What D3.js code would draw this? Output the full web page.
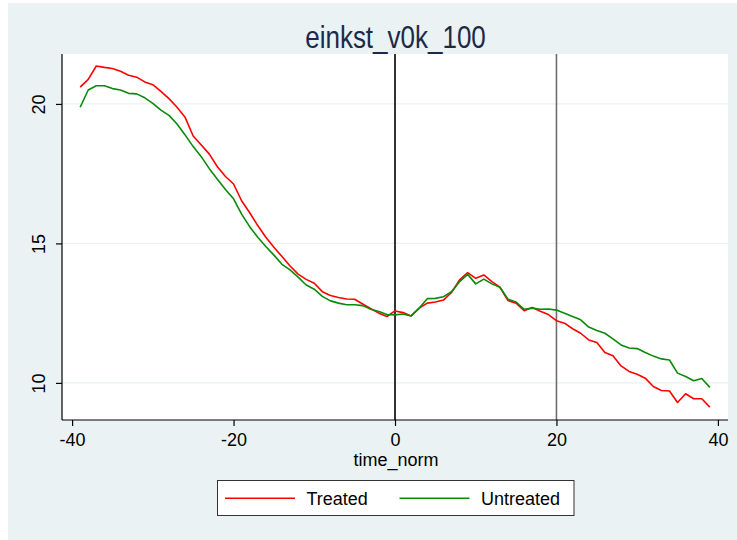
<!DOCTYPE html>
<html><head><meta charset="utf-8">
<script src="https://cdn.jsdelivr.net/npm/d3@7"></script>
<style>body{margin:0;background:#fff}svg{display:block}text{font-family:"Liberation Sans",Arial,sans-serif}</style>
</head><body>
<svg id="c" width="737" height="540"></svg>
<script>
const title = "einkst_v0k_100";
const xLabel = "time_norm";
const seriesNames = ["Treated", "Untreated"];
const timeNorm = d3.range(-39, 40);
const treated = [20.6,20.88,21.36,21.31,21.27,21.17,21.03,20.96,20.79,20.69,20.45,20.19,19.88,19.52,18.85,18.53,18.2,17.75,17.4,17.13,
  16.53,16.1,15.64,15.22,14.86,14.53,14.19,13.9,13.71,13.57,13.27,13.13,13.06,13.01,13.0,12.83,12.66,12.5,12.38,
  12.58,12.52,12.4,12.68,12.86,12.9,12.97,13.24,13.69,13.95,13.75,13.87,13.63,13.43,12.95,12.86,12.59,12.7,12.57,12.45,
  12.23,12.14,11.94,11.78,11.54,11.45,11.09,10.97,10.61,10.41,10.31,10.17,9.87,9.73,9.71,9.3,9.61,9.43,9.43,9.13];
const untreated = [19.88,20.5,20.65,20.65,20.55,20.5,20.38,20.36,20.22,20.02,19.78,19.59,19.28,18.89,18.47,18.11,17.68,17.3,16.93,16.6,
  16.05,15.6,15.22,14.89,14.58,14.25,14.05,13.79,13.51,13.36,13.1,12.94,12.86,12.8,12.8,12.77,12.64,12.56,12.45,
  12.44,12.47,12.4,12.68,13.02,13.03,13.09,13.27,13.63,13.89,13.55,13.72,13.55,13.43,13.0,12.9,12.64,12.68,12.64,12.65,
  12.61,12.5,12.38,12.26,12.0,11.88,11.78,11.58,11.36,11.25,11.23,11.09,10.96,10.86,10.82,10.35,10.23,10.08,10.16,9.84];
const xTicks = [-40, -20, 0, 20, 40];
const yTicks = [10, 15, 20];
const refLines = [0, 20];

const svg = d3.select("#c");
const bg = "#eaf2f3";
svg.append("rect").attr("x",8).attr("y",3).attr("width",729).attr("height",537).attr("fill",bg);

const L = 62, R = 728, T = 54, B = 420;
svg.append("rect").attr("x",L).attr("y",T).attr("width",R-L).attr("height",B-T).attr("fill","#fff");

const x = d3.scaleLinear().domain([-41.25, 41.25]).range([L, R]);
const y = d3.scaleLinear().domain([8.67, 21.79]).range([B, T]);

svg.append("g").selectAll("line").data(yTicks).join("line")
  .attr("x1",L).attr("x2",R).attr("y1",d=>y(d)).attr("y2",d=>y(d))
  .attr("stroke",bg).attr("stroke-width",1.2);

svg.append("g").selectAll("line").data(refLines).join("line")
  .attr("x1",d=>x(d)).attr("x2",d=>x(d)).attr("y1",T).attr("y2",B)
  .attr("stroke",(d,i)=>i===0?"#000":"#6e6e6e").attr("stroke-width",1.6);

const line = d3.line().x((d,i)=>x(timeNorm[i])).y(d=>y(d));
svg.append("path").datum(treated).attr("d",line).attr("fill","none").attr("stroke","#ff0000").attr("stroke-width",1.6).attr("stroke-linejoin","round");
svg.append("path").datum(untreated).attr("d",line).attr("fill","none").attr("stroke","#0a8a0a").attr("stroke-width",1.6).attr("stroke-linejoin","round");

const fmt = d => String(d);
const xAxis = svg.append("g").attr("transform",`translate(0,${B})`)
  .call(d3.axisBottom(x).tickValues(xTicks).tickSize(6).tickFormat(fmt));
const yAxis = svg.append("g").attr("transform",`translate(${L},0)`)
  .call(d3.axisLeft(y).tickValues(yTicks).tickSize(6).tickFormat(fmt));
[xAxis,yAxis].forEach(a=>{
  a.select(".domain").attr("stroke","#000").attr("stroke-width",1.2);
  a.selectAll(".tick line").attr("stroke","#000").attr("stroke-width",1.2);
  a.selectAll("text").attr("fill","#000").style("font-size","18px");
});
xAxis.select(".domain").attr("d",`M${L},0H${R}`);
yAxis.select(".domain").attr("d",`M0,${T}V${B}`);
xAxis.selectAll(".tick text").attr("y",0).attr("dy",0).attr("transform","translate(0,25.5) scale(1,1.05)");
yAxis.selectAll(".tick text").attr("x",0).attr("dy",0).attr("text-anchor","middle")
  .attr("transform","translate(-17,0) rotate(-90) scale(1,1.05)");

svg.append("text").attr("text-anchor","middle")
  .attr("transform","translate(395.5,48.3) scale(1,1.23)")
  .style("font-size","26px").attr("fill","#1c2a4a").text(title);
svg.append("text").attr("text-anchor","middle")
  .attr("transform","translate(396,466) scale(1,1.05)")
  .style("font-size","18px").attr("fill","#000").text(xLabel);

const lg = svg.append("g");
lg.append("rect").attr("x",217.5).attr("y",480.5).attr("width",356.5).attr("height",35)
  .attr("fill","#fff").attr("stroke","#333").attr("stroke-width",1);
const legendItems = [{name:seriesNames[0],color:"#ff0000",x0:225},{name:seriesNames[1],color:"#0a8a0a",x0:399.5}];
legendItems.forEach(it=>{
  lg.append("line").attr("x1",it.x0).attr("x2",it.x0+70).attr("y1",498.3).attr("y2",498.3).attr("stroke",it.color).attr("stroke-width",1.6);
  lg.append("text").attr("transform",`translate(${it.x0+81.5},505) scale(1,1.05)`).style("font-size","18px").attr("fill","#000").text(it.name);
});
</script>
</body></html>
